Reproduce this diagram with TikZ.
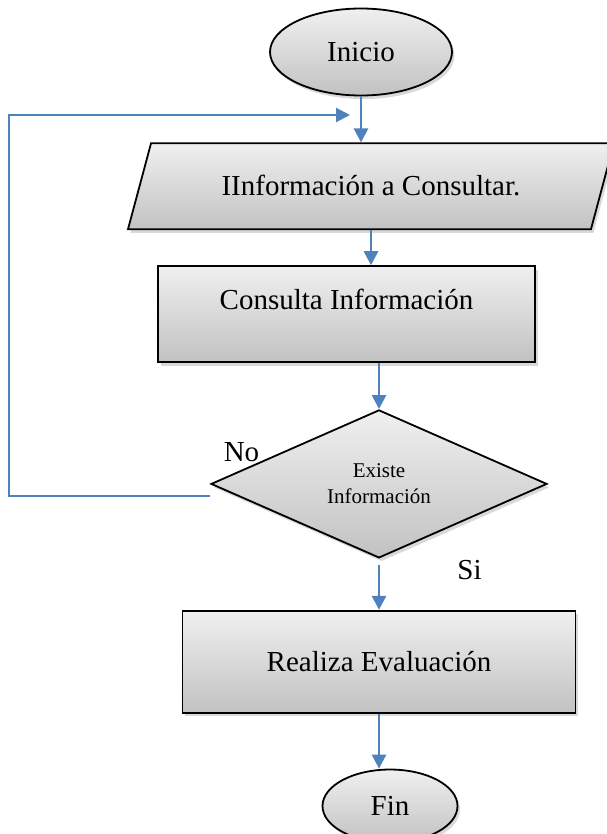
\documentclass[tikz,border=0pt]{standalone}
\usepackage{fontspec}
\setmainfont{Liberation Serif}
\usetikzlibrary{positioning,shapes.geometric,shadows,arrows.meta}
\definecolor{azul}{RGB}{79,129,189}

\begin{document}
\begin{tikzpicture}[x=1pt,y=1pt,
	caja/.style={draw=black, line width=1.8pt, top color=gray!12, bottom color=gray!48,
		drop shadow={shadow xshift=2.5pt, shadow yshift=-3.5pt, opacity=0.3},
		inner sep=0pt, font=\fontsize{29}{34}\selectfont},
	terminal/.style={caja, ellipse},
	proceso/.style={caja, rectangle},
	datos/.style={caja, trapezium, trapezium left angle=75, trapezium right angle=105, trapezium stretches body=true,
		text height=21pt, text depth=2pt, inner ysep=31.5pt},
	decision/.style={caja, diamond, align=center, font=\fontsize{21}{26}\selectfont},
	flecha/.style={draw=azul, line width=2.8pt, -{Triangle[length=14pt,width=14pt]}},
	etiqueta/.style={inner sep=0pt, font=\fontsize{29}{34}\selectfont}]
	\useasboundingbox (0,0) rectangle (606,-834);
	
	\node[terminal, minimum width=182pt, minimum height=87pt] (inicio) at (361,-52) {Inicio};
	\node[datos, minimum width=486pt, below=46pt of inicio, xshift=10pt] (info) {IInformación a Consultar.};
	\node[proceso, minimum width=377pt, minimum height=96pt, text height=20pt, text depth=29pt, below=35pt of info, xshift=-24.5pt] (cons) {Consulta Información};
	\node[etiqueta] (no) at (241.5,-452) {No};
	\node[decision, minimum width=336pt, minimum height=148pt, below=46pt of cons, xshift=32.5pt] (dec) {Existe\\Información};
	\node[etiqueta] (si) at ([shift={(90.5pt,-11pt)}]dec.south) {Si};
	\node[proceso, minimum width=393pt, minimum height=102pt, below=51pt of dec] (eval) {Realiza Evaluación};
	\node[terminal, minimum width=135pt, minimum height=73pt, below=55pt of eval, xshift=11pt] (fin) {Fin};
	\coordinate (ret) at (350,-115);
	
	\draw[flecha] (inicio.south) -- (inicio.south |- info.north);
	\draw[flecha] (info.south) -- (info.south |- cons.north);
	\draw[flecha] (dec.north |- cons.south) -- (dec.north);
	\draw[flecha, shorten <=6pt] (dec.south) -- (dec.south |- eval.north);
	\draw[flecha] (eval.south) -- (eval.south |- fin.north);
	\draw[flecha, line width=2.1pt] ([yshift=-12pt]dec.west) -- ++(-201,0) |- (ret);
\end{tikzpicture}
\end{document}
